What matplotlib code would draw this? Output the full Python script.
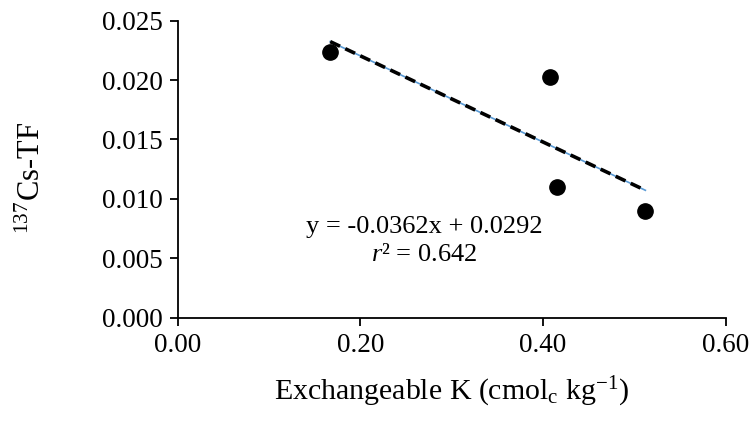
import numpy as np
import matplotlib
matplotlib.use("Agg")
import matplotlib.pyplot as plt

plt.rcParams["font.family"] = "Liberation Serif"
plt.rcParams["mathtext.fontset"] = "custom"
plt.rcParams["mathtext.rm"] = "Liberation Serif"
plt.rcParams["mathtext.it"] = "Liberation Serif:italic"

# data
exch_k = [0.167, 0.408, 0.415, 0.512]
cs_tf = [0.0224, 0.0203, 0.0110, 0.0090]
x_ticks = [0.0, 0.2, 0.4, 0.6]
y_ticks = [0.000, 0.005, 0.010, 0.015, 0.020, 0.025]
eq_text = "y = -0.0362x + 0.0292"
r2_text = r"$\mathit{r}$² = 0.642"

fig = plt.figure(figsize=(7.51, 4.25), dpi=100)
ax = fig.add_axes([0.2366, 0.2525, 0.7298, 0.6988])

# trendline (least squares over the points)
slope, icpt = np.polyfit(exch_k, cs_tf, 1)
xl = np.array([min(exch_k), max(exch_k)])
ax.plot(xl, slope * xl + icpt, color="#5b9bd5", lw=1.2, zorder=2)
ax.plot(xl, slope * xl + icpt, color="black", lw=2.6, ls=(0, (3, 1.6)), zorder=3)

ax.plot(exch_k, cs_tf, "o", color="black", ms=11, zorder=4)

ax.set_xlim(0, 0.6)
ax.set_ylim(0, 0.025)
ax.set_xticks(x_ticks)
ax.set_xticklabels([f"{v:.2f}" for v in x_ticks])
ax.set_yticks(y_ticks)
ax.set_yticklabels([f"{v:.3f}" for v in y_ticks])

for s in ["top", "right"]:
    ax.spines[s].set_visible(False)
for s in ["left", "bottom"]:
    ax.spines[s].set_linewidth(1.3)
ax.tick_params(direction="out", length=6, width=1.3, labelsize=19.5, pad=5)

ax.set_xlabel(r"Exchangeable K (cmol$_\mathrm{c}$ kg$^{-1}$)", fontsize=21.5, labelpad=12)
ax.set_ylabel(r"$^{137}$Cs-TF", fontsize=22)
ax.yaxis.set_label_coords(-0.238, 0.47)

ax.text(0.27, 0.0076, eq_text, fontsize=19, ha="center", va="center")
ax.text(0.27, 0.0053, r2_text, fontsize=19, ha="center", va="center")

fig.savefig("out.png", dpi=100)
